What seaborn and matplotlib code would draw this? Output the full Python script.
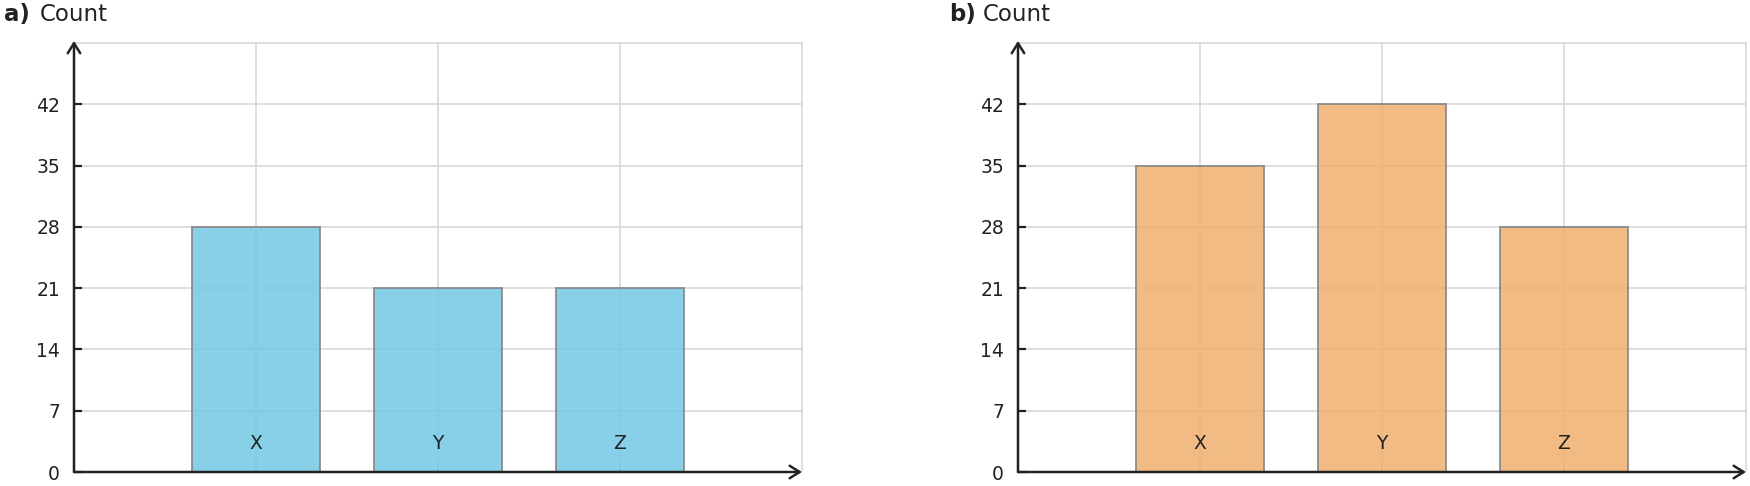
import matplotlib
matplotlib.use("Agg")
import matplotlib.pyplot as plt
import seaborn as sns
import pandas as pd

categories = ["X", "Y", "Z"]
counts_a = [28, 21, 21]
counts_b = [35, 42, 28]
yticks = [0, 7, 14, 21, 28, 35, 42]
panel_labels = ["a)", "b)"]
panel_titles = ["Count", "Count"]

sns.set_theme(style="white")
plt.rcParams["font.family"] = ["DejaVu Sans"]

fig = plt.figure(figsize=(17.5, 4.86), dpi=100)
ax_a = fig.add_axes([74 / 1750, 1 - 472 / 486, 728 / 1750, 429 / 486])
ax_b = fig.add_axes([1018 / 1750, 1 - 472 / 486, 728 / 1750, 429 / 486])

colors = ["#72C8E4", "#F0B06E"]
grid_c = "#d5d5d5"
axis_c = "#222222"

for ax, vals, col in [(ax_a, counts_a, colors[0]), (ax_b, counts_b, colors[1])]:
    df = pd.DataFrame({"cat": categories, "val": vals})
    sns.barplot(data=df, x="cat", y="val", color=col, saturation=1, alpha=0.85,
                edgecolor="#858585", linewidth=1.4, width=0.7, ax=ax, zorder=2)
    ax.set_xlim(-1, 3)
    ax.set_ylim(0, 49)
    ax.set_yticks(yticks)
    ax.set_yticklabels([str(t) for t in yticks], fontsize=13.5, color=axis_c)
    ax.set_xticks(range(len(categories)))
    ax.set_xticklabels([])
    ax.set_xlabel("")
    ax.set_ylabel("")
    ax.set_axisbelow(True)
    ax.grid(True, color=grid_c, linewidth=1.1)
    ax.tick_params(axis="y", direction="in", length=6, width=1.6, color=axis_c, pad=10, left=True)
    ax.tick_params(axis="x", direction="in", length=2.5, width=1.4, color="#777777", bottom=True)
    for s in ["top", "right"]:
        ax.spines[s].set_color(grid_c)
        ax.spines[s].set_linewidth(1.1)
    for s in ["left", "bottom"]:
        ax.spines[s].set_visible(False)
    for i, c in enumerate(categories):
        ax.text(i, 3.3, c, ha="center", va="center", fontsize=13.5, color=axis_c, zorder=4)
    # axis arrows
    arrow_kw = dict(arrowstyle="->,head_length=0.4,head_width=0.25", color=axis_c, lw=1.8,
                    shrinkA=0, shrinkB=0, mutation_scale=18)
    ax.annotate("", xy=(0, 1.005), xytext=(0, 0), xycoords="axes fraction",
                textcoords="axes fraction", arrowprops=arrow_kw, annotation_clip=False, zorder=5)
    ax.annotate("", xy=(1.0, 0), xytext=(0, 0), xycoords="axes fraction",
                textcoords="axes fraction", arrowprops=arrow_kw, annotation_clip=False, zorder=5)

# panel titles
fig.text(4 / 1750, 1 - 21 / 486, panel_labels[0], fontsize=16.5, fontweight="bold", color=axis_c, va="baseline", ha="left")
fig.text(40 / 1750, 1 - 21 / 486, panel_titles[0], fontsize=16.5, color=axis_c, va="baseline", ha="left")
fig.text(949 / 1750, 1 - 21 / 486, panel_labels[1], fontsize=16.5, fontweight="bold", color=axis_c, va="baseline", ha="left")
fig.text(983 / 1750, 1 - 21 / 486, panel_titles[1], fontsize=16.5, color=axis_c, va="baseline", ha="left")

fig.savefig("out.png", dpi=100, facecolor="white")
